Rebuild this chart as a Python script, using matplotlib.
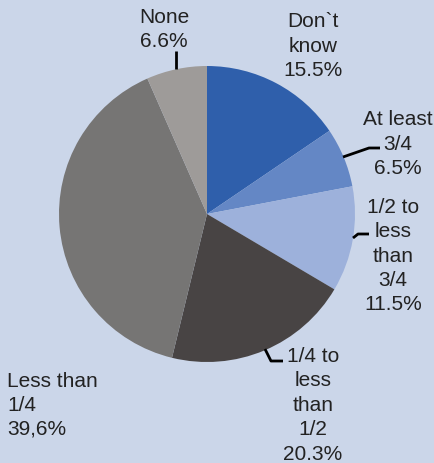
import matplotlib
matplotlib.use("Agg")
import matplotlib.pyplot as plt

W, H = 435, 464

labels = ["Don`t\nknow", "At least\n3/4", "1/2 to\nless\nthan\n3/4",
          "1/4 to\nless\nthan\n1/2", "Less than\n1/4", "None"]
values = [15.5, 6.5, 11.5, 20.3, 39.6, 6.6]
value_text = ["15.5%", "6.5%", "11.5%", "20.3%", "39,6%", "6.6%"]
colors = ["#2f5fab", "#6487c5", "#9db1db", "#484444", "#767574", "#9e9b99"]

bg = "#cbd6e9"
txt = "#222222"

fig = plt.figure(figsize=(W / 100, H / 100), dpi=100, facecolor=bg)
ax = fig.add_axes([0, 0, 1, 1])


def py(y):
    # pixel rows are counted from the top
    return H - y


ax.pie(values, colors=colors, startangle=90, counterclock=False,
       center=(207, py(215)), radius=148, frame=True,
       wedgeprops=dict(linewidth=0))
ax.set_xlim(0, W)
ax.set_ylim(0, H)
ax.set_aspect("equal")
ax.set_axis_off()

# label text: (x, first baseline, alignment, line step)
spots = [(313, 27, "center", 24.5), (398, 125, "center", 24.5),
         (393, 213, "center", 24.3), (313, 362, "center", 24.5),
         (7, 387, "left", 24.0), (164, 23, "center", 24.0)]
for lab, vt, (x, y, ha, step) in zip(labels, value_text, spots):
    lines = lab.split("\n") + [vt]
    for i, line in enumerate(lines):
        ax.text(x, py(y + i * step), line, ha=ha, va="baseline",
                fontsize=15, family="Liberation Sans", color=txt)

# leader lines
leaders = [
    [(176, 52), (176, 70)],
    [(343, 158), (369, 149), (380, 149)],
    [(353, 239), (358, 235), (369, 235)],
    [(265, 350), (271, 362), (283, 362)],
]
for pts in leaders:
    ax.plot([p[0] for p in pts], [py(p[1]) for p in pts], color="black", lw=2,
            solid_capstyle="butt")

fig.savefig("out.png", dpi=100, facecolor=bg)
